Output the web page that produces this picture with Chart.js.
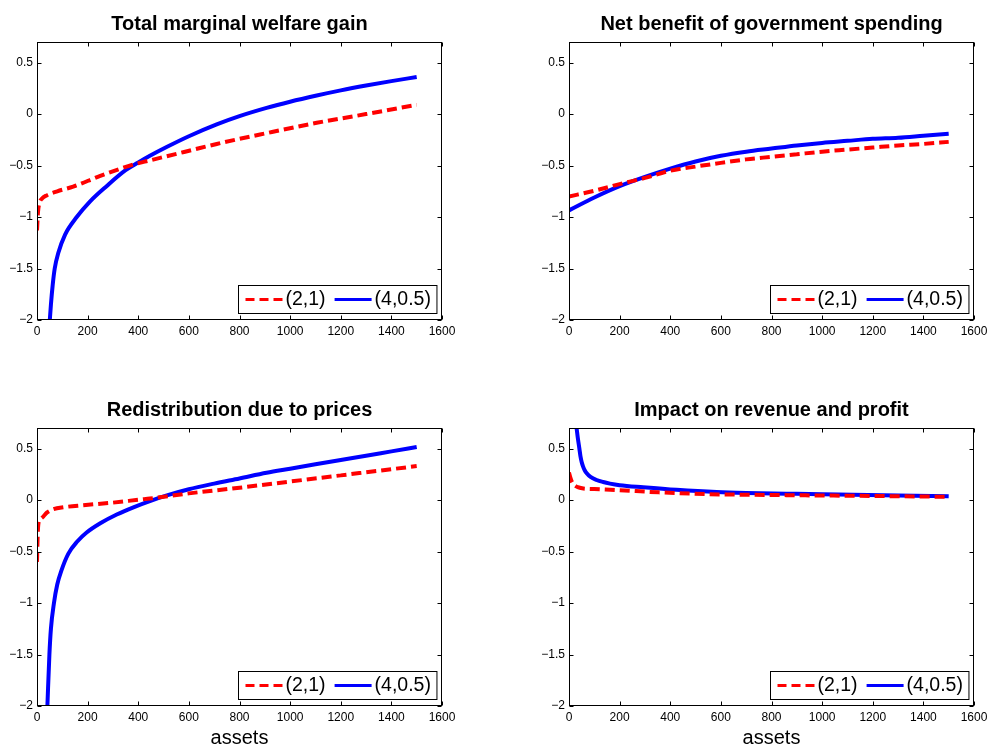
<!DOCTYPE html>
<html>
<head>
<meta charset="utf-8">
<script src="https://cdn.jsdelivr.net/npm/chart.js@4.4.0/dist/chart.umd.min.js"></script>
<style>
  html, body { margin: 0; padding: 0; background: #fff; overflow: hidden; width: 987px; height: 744px; }
  .panel { position: absolute; }
</style>
</head>
<body>
<div class="panel" style="left:0;top:0"><canvas id="welfare" width="479" height="372"></canvas></div>
<div class="panel" style="left:532px;top:0"><canvas id="spending" width="479" height="372"></canvas></div>
<div class="panel" style="left:0;top:386px"><canvas id="prices" width="479" height="372"></canvas></div>
<div class="panel" style="left:532px;top:386px"><canvas id="revenue" width="479" height="372"></canvas></div>

<script>
  // Axis ticks and labels.
  const xTicks = [0, 200, 400, 600, 800, 1000, 1200, 1400, 1600];
  const yTicks = [-2, -1.5, -1, -0.5, 0, 0.5];
  const seriesNames = ['(2,1)', '(4,0.5)'];
  const panelTitles = [
    'Total marginal welfare gain',
    'Net benefit of government spending',
    'Redistribution due to prices',
    'Impact on revenue and profit'
  ];
  const xLabel = 'assets';

  // Total marginal welfare gain.
  const welfareAssets21 = [0, 4, 9, 20, 38, 80, 143, 250, 381, 446, 644, 710, 907, 1105, 1300, 1500];
  const welfare21 = [-1.13, -0.95, -0.87, -0.82, -0.79, -0.75, -0.705, -0.6, -0.49, -0.45, -0.33, -0.29, -0.185, -0.085, 0.0, 0.09];
  const welfareAssets405 = [50, 55, 62, 70, 84, 111, 157, 209, 275, 350, 400, 446, 512, 600, 710, 800, 907, 1000, 1105, 1200, 1300, 1400, 1500];
  const welfare405 = [-2.02, -1.85, -1.66, -1.5, -1.35, -1.17, -1.0, -0.85, -0.7, -0.545, -0.47, -0.405, -0.32, -0.215, -0.1, -0.02, 0.06, 0.12, 0.18, 0.23, 0.277, 0.32, 0.36];

  // Net benefit of government spending.
  const spendingAssets = [0, 100, 200, 300, 400, 500, 600, 700, 800, 900, 1000, 1100, 1200, 1300, 1400, 1500];
  const spending21 = [-0.8, -0.745, -0.68, -0.62, -0.55, -0.51, -0.474, -0.44, -0.415, -0.39, -0.365, -0.345, -0.325, -0.305, -0.29, -0.27];
  const spending405 = [-0.935, -0.81, -0.7, -0.61, -0.53, -0.46, -0.405, -0.365, -0.335, -0.305, -0.28, -0.26, -0.24, -0.23, -0.21, -0.19];

  // Redistribution due to prices.
  const pricesAssets21 = [0, 2, 5, 12, 25, 40, 64, 104, 183, 300, 407, 446, 600, 800, 1000, 1200, 1500];
  const prices21 = [-0.6, -0.4, -0.24, -0.19, -0.16, -0.12, -0.09, -0.07, -0.05, -0.025, 0.005, 0.015, 0.065, 0.12, 0.18, 0.24, 0.33];
  const pricesAssets405 = [41, 49, 55, 67, 80, 97, 124, 160, 196, 250, 315, 381, 446, 513, 600, 700, 800, 907, 1000, 1100, 1200, 1300, 1400, 1500];
  const prices405 = [-2.0, -1.5, -1.25, -1.0, -0.82, -0.68, -0.52, -0.4, -0.315, -0.225, -0.14, -0.07, -0.01, 0.045, 0.105, 0.16, 0.21, 0.265, 0.305, 0.348, 0.39, 0.43, 0.473, 0.515];

  // Impact on revenue and profit.
  const revenueAssets21 = [0, 5, 11, 20, 35, 52, 100, 184, 355, 539, 700, 859, 1000, 1122, 1300, 1500];
  const revenue21 = [0.267, 0.22, 0.18, 0.147, 0.125, 0.114, 0.107, 0.098, 0.075, 0.058, 0.052, 0.048, 0.044, 0.042, 0.037, 0.032];
  const revenueAssets405 = [28, 30, 35, 41, 45, 50, 55, 62, 70, 85, 109, 135, 162, 200, 293, 425, 583, 700, 859, 1000, 1122, 1300, 1500];
  const revenue405 = [0.74, 0.7, 0.6, 0.5, 0.43, 0.37, 0.33, 0.29, 0.26, 0.225, 0.195, 0.175, 0.16, 0.145, 0.125, 0.1, 0.078, 0.069, 0.062, 0.056, 0.052, 0.045, 0.036];

  const FONT = '"Liberation Sans", Arial, Helvetica, sans-serif';

  function toPoints(xs, ys) {
    return xs.map(function (x, i) { return { x: x, y: ys[i] }; });
  }

  function fmtTick(value) {
    return String(value).replace('-', '\u2212');
  }

  /**
   * Box with inward ticks on all four sides, plus legend in the lower right.
   */
  const matlabAxes = {
    id: 'matlabAxes',
    afterDraw: function (chart) {
      const ctx = chart.ctx;
      const a = chart.chartArea;
      const xs = chart.scales.x;
      const ys = chart.scales.y;
      const L = Math.round(a.left) + 0.5;
      const R = Math.round(a.right) - 0.5;
      const T = Math.round(a.top) + 0.5;
      const B = Math.round(a.bottom) - 0.5;
      const tl = 4;

      ctx.save();
      ctx.strokeStyle = '#000';
      ctx.lineWidth = 1;
      ctx.setLineDash([]);
      ctx.strokeRect(L, T, R - L, B - T);

      ctx.beginPath();
      xTicks.forEach(function (v) {
        const px = Math.round(xs.getPixelForValue(v)) + 0.5;
        ctx.moveTo(px, B); ctx.lineTo(px, B - tl);
        ctx.moveTo(px, T); ctx.lineTo(px, T + tl);
      });
      yTicks.forEach(function (v) {
        const py = Math.round(ys.getPixelForValue(v)) + 0.5;
        ctx.moveTo(L, py); ctx.lineTo(L + tl, py);
        ctx.moveTo(R, py); ctx.lineTo(R - tl, py);
      });
      ctx.stroke();

      // Legend.
      ctx.font = '19.5px ' + FONT;
      const sample = 37;
      const items = chart.data.datasets.map(function (ds) {
        return { ds: ds, w: ctx.measureText(ds.label).width };
      });
      let boxW = 7 + 6;
      items.forEach(function (it, i) { boxW += sample + 3 + it.w + (i > 0 ? 9 : 0); });
      const boxH = 28;
      const bx = Math.round(a.right - 6 - boxW) + 0.5;
      const by = Math.round(a.bottom - 7 - boxH) + 0.5;
      ctx.fillStyle = '#fff';
      ctx.fillRect(bx, by, boxW, boxH);
      ctx.strokeRect(bx, by, boxW, boxH);

      const cy = by + boxH / 2;
      let cx = bx + 7;
      items.forEach(function (it, i) {
        if (i > 0) cx += 9;
        ctx.beginPath();
        ctx.strokeStyle = it.ds.borderColor;
        ctx.lineWidth = 3;
        ctx.setLineDash(it.ds.borderDash ? [9, 5] : []);
        ctx.moveTo(cx, cy);
        ctx.lineTo(cx + sample, cy);
        ctx.stroke();
        cx += sample + 3;
        ctx.setLineDash([]);
        ctx.fillStyle = '#000';
        ctx.textBaseline = 'middle';
        ctx.textAlign = 'left';
        ctx.fillText(it.ds.label, cx, cy);
        cx += it.w;
      });
      ctx.restore();
    }
  };

  function makePanel(canvasId, title, red, blue, axisLabel) {
    return new Chart(document.getElementById(canvasId), {
      type: 'line',
      data: {
        datasets: [
          {
            label: seriesNames[0], data: red,
            borderColor: '#ff0000', borderWidth: 4, borderDash: [10, 5],
            pointRadius: 0, cubicInterpolationMode: 'monotone', fill: false, clip: 0
          },
          {
            label: seriesNames[1], data: blue,
            borderColor: '#0000ff', borderWidth: 4,
            pointRadius: 0, cubicInterpolationMode: 'monotone', fill: false, clip: 0
          }
        ]
      },
      options: {
        responsive: false,
        animation: false,
        devicePixelRatio: 1,
        layout: { padding: { left: 0, right: 37, top: 0, bottom: 0 } },
        plugins: {
          legend: { display: false },
          tooltip: { enabled: false },
          title: {
            display: true, text: title, color: '#000', fullSize: false,
            font: { family: FONT, size: 20, weight: 'bold', lineHeight: 1.2 },
            padding: { top: 12, bottom: 6 }
          }
        },
        scales: {
          x: {
            type: 'linear', min: 0, max: 1600,
            grid: { display: false, drawTicks: false },
            border: { display: false },
            ticks: {
              padding: 4, color: '#000', maxRotation: 0, autoSkip: false,
              font: { family: FONT, size: 12 }, callback: fmtTick
            },
            title: {
              display: !!axisLabel, text: axisLabel || '', color: '#000',
              font: { family: FONT, size: 20, lineHeight: 1.2 },
              padding: { top: 0, bottom: 8 }
            },
            afterBuildTicks: function (s) { s.ticks = xTicks.map(function (v) { return { value: v }; }); },
            afterFit: function (s) { s.height = 52; s.paddingLeft = 0; s.paddingRight = 0; }
          },
          y: {
            type: 'linear', min: -2, max: 0.7,
            grid: { display: false, drawTicks: false },
            border: { display: false },
            ticks: {
              padding: 4, color: '#000', autoSkip: false,
              font: { family: FONT, size: 12 }, callback: fmtTick
            },
            afterBuildTicks: function (s) { s.ticks = yTicks.map(function (v) { return { value: v }; }); },
            afterFit: function (s) { s.width = 37; s.paddingTop = 0; s.paddingBottom = 0; }
          }
        }
      },
      plugins: [matlabAxes]
    });
  }

  makePanel('welfare', panelTitles[0], toPoints(welfareAssets21, welfare21), toPoints(welfareAssets405, welfare405), null);
  makePanel('spending', panelTitles[1], toPoints(spendingAssets, spending21), toPoints(spendingAssets, spending405), null);
  makePanel('prices', panelTitles[2], toPoints(pricesAssets21, prices21), toPoints(pricesAssets405, prices405), xLabel);
  makePanel('revenue', panelTitles[3], toPoints(revenueAssets21, revenue21), toPoints(revenueAssets405, revenue405), xLabel);
</script>
</body>
</html>
